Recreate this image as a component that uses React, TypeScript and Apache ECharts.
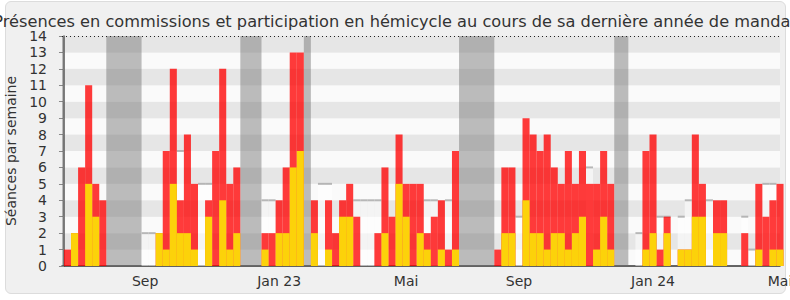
import React, { useEffect, useRef } from "react";
import * as echarts from "echarts";

// Weekly values, week index 0..101 (one bar per week)
const commissionTotals = [
  1, 2, 6, 11, 5, 4, 0, 0, 0, 0,
  0, 0, 0, 2, 7, 12, 4, 8, 5, 0,
  4, 7, 12, 5, 6, 0, 0, 0, 2, 2,
  4, 6, 13, 13, 0, 4, 0, 4, 2, 4,
  5, 3, 0, 0, 2, 6, 3, 8, 5, 5,
  5, 2, 3, 4, 1, 7, 0, 0, 0, 0,
  0, 1, 6, 6, 0, 9, 8, 7, 8, 6,
  5, 7, 5, 7, 5, 5, 7, 5, 0, 0,
  0, 0, 7, 8, 1, 3, 0, 1, 1, 8,
  5, 0, 4, 4, 0, 0, 2, 0, 5, 3,
  4, 5,
];

const hemicycleValues = [
  0, 2, 0, 5, 3, 0, 0, 0, 0, 0,
  0, 0, 0, 2, 1, 5, 2, 2, 1, 0,
  3, 0, 4, 1, 2, 0, 0, 0, 1, 0,
  2, 2, 6, 7, 0, 2, 0, 1, 0, 3,
  3, 0, 0, 0, 0, 2, 0, 5, 3, 0,
  2, 1, 0, 1, 0, 1, 0, 0, 0, 0,
  0, 0, 2, 2, 0, 4, 2, 2, 1, 2,
  2, 1, 2, 3, 0, 1, 3, 1, 0, 0,
  0, 0, 1, 2, 0, 2, 0, 1, 1, 3,
  3, 0, 2, 2, 0, 0, 0, 0, 1, 0,
  1, 1,
];

// Visible median marks (week index -> value)
const medianWeeks = [11, 12, 16, 19, 20, 28, 29, 36, 37, 41, 42, 43, 44, 51, 52, 54, 64, 74, 81, 84, 85, 87, 88, 91, 96, 97, 99, 100];
const medianValues = [2, 2, 7, 5, 5, 4, 4, 5, 5, 4, 4, 4, 4, 4, 4, 4, 3, 6, 2, 3, 3, 3, 4, 4, 3, 1, 5, 5];

// Parliamentary holidays: [first week, week after last]
const holidays: [number, number][] = [
  [-1, 0], [6, 11], [25, 28], [34, 35], [56, 61], [78, 80],
];

// Month tick labels and the week they sit on
const tickLabels = ["Sep", "Jan 23", "Mai", "Sep", "Jan 24", "Mai"];
const tickWeeks = [11, 30, 48, 64, 83, 101];

const X_MIN = -0.28;
const X_MAX = 101.5;

const FONT = "DejaVu Sans";

export default function App() {
  const ref = useRef<HTMLDivElement>(null);

  useEffect(() => {
    if (!ref.current) return;
    const chart = echarts.init(ref.current, undefined, { renderer: "svg" });

    const labelByPos: Record<string, string> = {};
    tickWeeks.forEach((w, i) => {
      labelByPos[String(w + 0.5)] = tickLabels[i];
    });

    const totalsData = commissionTotals.map((v, i) => [i + 0.5, v]);
    const hemiData = hemicycleValues.map((v, i) => [i + 0.5, v]);
    const medianData = medianWeeks.map((w, i) => [w + 0.5, medianValues[i]]);

    chart.setOption({
      animation: false,
      textStyle: { fontFamily: FONT },
      title: {
        text: "Présences en commissions et participation en hémicycle au cours de sa dernière année de mandat",
        left: "center",
        top: 8,
        textStyle: { fontFamily: FONT, fontSize: 16.2, fontWeight: "normal", color: "#333" },
      },
      grid: { left: 62, right: 10, top: 36, bottom: 34, outerBoundsMode: "none", containLabel: false },
      xAxis: {
        type: "value",
        min: X_MIN,
        max: X_MAX,
        splitLine: { show: false },
        axisTick: { show: false },
        axisLine: { show: true, lineStyle: { color: "#333", width: 1.5 } },
        axisLabel: {
          customValues: tickWeeks.map((w) => w + 0.5),
          formatter: (v: number) => labelByPos[String(v)] ?? "",
          fontSize: 14,
          color: "#333",
          margin: 8,
          fontFamily: FONT,
        },
      },
      yAxis: {
        type: "value",
        min: 0,
        max: 14,
        interval: 1,
        name: "Séances par semaine",
        nameLocation: "middle",
        nameGap: 44,
        nameTextStyle: { fontSize: 14, color: "#333", fontFamily: FONT },
        axisLine: { show: true, lineStyle: { color: "#555", width: 1.5 } },
        axisTick: { show: true, length: 5, lineStyle: { color: "#888" } },
        axisLabel: { fontSize: 14, color: "#333", margin: 15, fontFamily: FONT },
        splitLine: { show: false },
        splitArea: { show: true, areaStyle: { color: ["#FAFAFA", "#E6E6E6"] } },
      },
      series: [
        {
          name: "median",
          type: "bar",
          data: medianData,
          barWidth: "100%",
          barGap: "-100%",
          itemStyle: { color: "rgba(255,255,255,0.55)" },
          silent: true,
          z: 1,
          markArea: {
            silent: true,
            itemStyle: { color: "rgba(110,110,110,0.45)" },
            data: holidays.map(([a, b]) => [{ xAxis: Math.max(a, X_MIN) }, { xAxis: b }]),
          },
          markLine: {
            silent: true,
            symbol: "none",
            label: { show: false },
            lineStyle: { color: "#222", type: [1, 3], width: 1 },
            data: [{ yAxis: 14 }],
          },
        },
        {
          name: "medianMark",
          type: "scatter",
          data: medianData,
          symbol: "rect",
          symbolSize: [7, 2],
          itemStyle: { color: "#A8A8A8" },
          silent: true,
          z: 2,
        },
        {
          name: "commissions",
          type: "bar",
          data: totalsData,
          barWidth: "100%",
          barGap: "-100%",
          itemStyle: { color: "rgba(255,0,0,0.77)" },
          z: 3,
        },
        {
          name: "hemicycle",
          type: "bar",
          data: hemiData,
          barWidth: "100%",
          barGap: "-100%",
          itemStyle: { color: "#FCD20A" },
          z: 4,
        },
      ],
    });

    return () => chart.dispose();
  }, []);

  return (
    <div style={{ position: "fixed", left: 0, top: 0, width: 790, height: 300, background: "#fff" }}>
      <div
        style={{
          position: "absolute",
          left: 5,
          top: 1,
          width: 781,
          height: 293,
          boxSizing: "border-box",
          border: "1px solid #DCDCDC",
          borderRadius: 6,
          background: "#F0F0F0",
        }}
      />
      <div ref={ref} style={{ position: "absolute", left: 0, top: 0, width: 790, height: 300 }} />
    </div>
  );
}
